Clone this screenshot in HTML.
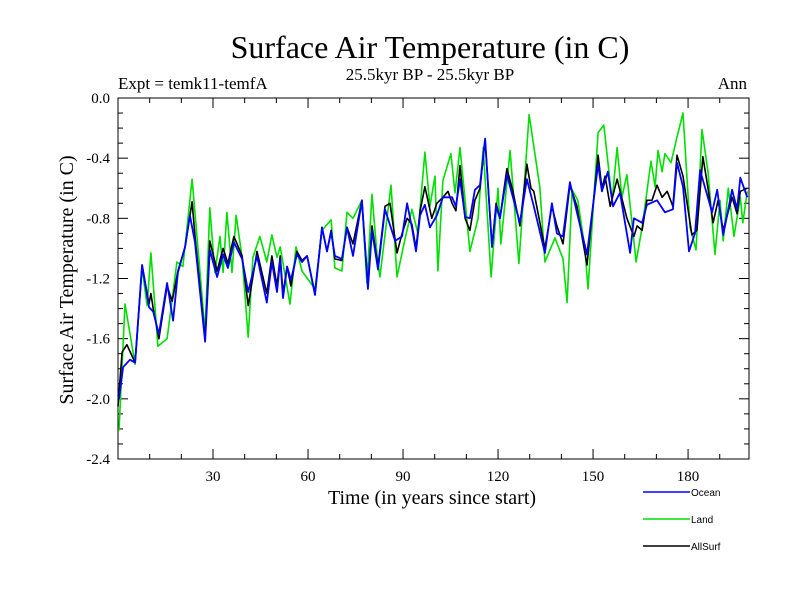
<!DOCTYPE html>
<html><head><meta charset="utf-8"><style>
body{margin:0;background:#fff;}
svg{display:block;}
</style></head><body>
<svg id="chart" width="800" height="600" viewBox="0 0 800 600" xmlns="http://www.w3.org/2000/svg">
<rect x="0" y="0" width="800" height="600" fill="#fff"/>
<text x="430" y="58" text-anchor="middle" font-family="Liberation Serif, serif" font-size="32">Surface Air Temperature (in C)</text>
<text x="430" y="80" text-anchor="middle" font-family="Liberation Serif, serif" font-size="17">25.5kyr BP - 25.5kyr BP</text>
<text x="118" y="89" font-family="Liberation Serif, serif" font-size="17">Expt = temk11-temfA</text>
<text x="747" y="89" text-anchor="end" font-family="Liberation Serif, serif" font-size="17">Ann</text>
<text transform="translate(73,280) rotate(-90)" text-anchor="middle" font-family="Liberation Serif, serif" font-size="20">Surface Air Temperature (in C)</text>
<text x="432" y="504" text-anchor="middle" font-family="Liberation Serif, serif" font-size="20">Time (in years since start)</text>
<g id="axes"></g>
<g id="series"></g>
<g id="legend"></g>
</svg>
<script>
const xTicks=[30,60,90,120,150,180];
const yTicks=[0,-0.4,-0.8,-1.2,-1.6,-2.0,-2.4];
const yTickLabels=["0.0","-0.4","-0.8","-1.2","-1.6","-2.0","-2.4"];
const seriesNames=["Ocean","Land","AllSurf"];

const oceanYears=[0.3,1.6,3.8,5.4,7.6,9.8,11.1,12.9,15.5,17.4,18.9,21.2,22.7,24.3,27.5,29.0,31.3,33.2,34.7,36.6,39.2,41.1,43.9,47.0,48.6,50.2,51.2,52.1,53.4,54.6,56.5,58.1,59.7,62.2,64.4,66.0,67.3,68.5,70.7,72.3,74.2,77.0,78.9,80.2,82.1,84.3,87.5,89.7,91.3,92.8,94.1,95.4,96.9,98.5,100.7,102.6,105.5,106.7,108.0,109.6,111.1,112.7,114.3,115.9,118.1,119.4,120.6,122.8,124.7,126.9,129.1,131.3,134.8,137.0,138.6,140.5,142.7,144.9,146.5,148.1,151.6,152.8,154.7,156.3,158.5,161.7,162.9,165.5,167.0,170.2,172.7,175.2,176.5,178.4,180.3,182.2,183.8,185.7,187.6,189.2,191.1,193.9,195.5,196.5,198.7];
const oceanVals=[-2.0,-1.79,-1.74,-1.76,-1.11,-1.39,-1.42,-1.57,-1.23,-1.48,-1.16,-0.99,-0.78,-0.96,-1.62,-1.01,-1.19,-1.04,-1.13,-0.96,-1.07,-1.29,-1.05,-1.36,-1.09,-1.29,-1.07,-1.33,-1.12,-1.21,-1.04,-1.09,-1.05,-1.31,-0.86,-1.02,-0.89,-1.05,-1.07,-0.86,-1.05,-0.68,-1.27,-0.88,-1.14,-0.74,-0.95,-0.92,-0.70,-0.86,-1.02,-0.78,-0.71,-0.86,-0.78,-0.66,-0.66,-0.72,-0.54,-0.79,-0.80,-0.61,-0.58,-0.27,-0.99,-0.72,-0.80,-0.51,-0.66,-0.83,-0.54,-0.72,-1.03,-0.70,-0.90,-0.92,-0.56,-0.76,-0.90,-1.04,-0.44,-0.62,-0.49,-0.72,-0.63,-1.03,-0.80,-0.83,-0.71,-0.68,-0.76,-0.74,-0.43,-0.59,-1.02,-0.90,-0.48,-0.62,-0.76,-0.61,-0.91,-0.61,-0.74,-0.53,-0.66];

const landYears=[0.3,2.2,5.4,7.6,9.2,10.4,12.6,15.5,18.6,20.5,23.4,25.3,27.5,29.0,30.6,32.2,33.2,34.4,36.0,37.3,39.2,41.1,42.6,44.8,47.0,48.6,50.2,51.2,54.3,56.2,58.1,62.2,64.4,67.3,68.5,70.7,72.3,74.2,77.0,78.6,80.2,81.8,82.7,86.2,88.1,90.6,92.8,94.7,96.9,98.5,100.1,101.0,102.6,105.1,106.4,108.0,109.6,111.1,113.7,115.3,117.8,120.0,120.9,123.8,126.6,129.8,131.7,133.2,134.8,138.0,140.5,141.8,143.4,145.2,147.5,148.4,151.6,153.4,156.0,157.6,159.1,160.7,163.6,165.5,168.3,169.6,170.5,171.8,172.7,174.6,176.5,178.4,180.6,182.5,184.4,186.3,188.5,190.1,191.1,192.7,194.5,196.5,197.3,198.7];
const landVals=[-2.21,-1.37,-1.77,-1.13,-1.38,-1.03,-1.65,-1.60,-1.09,-1.12,-0.54,-1.01,-1.56,-0.73,-1.16,-0.92,-1.16,-0.76,-1.16,-0.78,-1.06,-1.59,-1.06,-0.92,-1.09,-0.91,-1.06,-0.99,-1.37,-0.99,-1.15,-1.27,-0.88,-0.81,-1.13,-1.15,-0.76,-0.80,-0.68,-1.23,-0.64,-1.05,-1.19,-0.58,-1.19,-0.94,-0.74,-0.90,-0.36,-0.72,-0.52,-1.15,-0.55,-0.37,-0.63,-0.33,-0.68,-1.02,-0.80,-0.33,-1.19,-0.60,-0.97,-0.35,-1.10,-0.11,-0.38,-0.59,-1.09,-0.93,-1.07,-1.36,-0.61,-0.68,-1.01,-1.27,-0.23,-0.18,-0.68,-0.33,-0.66,-0.51,-1.09,-0.86,-0.42,-0.59,-0.35,-0.49,-0.37,-0.43,-0.26,-0.10,-0.86,-1.01,-0.21,-0.49,-1.04,-0.68,-0.95,-0.60,-0.92,-0.66,-0.83,-0.62];

const allYears=[0,1.3,2.8,5.4,7.6,9.8,10.4,11.1,12.9,15.5,17.1,18.9,21.2,23.4,24.3,27.5,29.0,31.3,33.2,34.7,36.6,39.2,41.1,43.9,47.0,48.6,50.2,51.2,52.1,53.4,54.6,56.5,58.1,59.7,62.2,64.4,66.0,67.3,68.5,70.7,72.3,74.2,77.0,78.9,80.2,82.1,84.3,85.9,88.1,89.7,91.3,92.8,94.1,95.4,96.9,99.1,100.7,102.6,104.2,105.5,106.7,108.0,109.6,111.1,112.7,114.3,115.9,118.1,119.4,120.6,122.8,124.7,126.9,129.1,130.4,131.3,134.8,137.0,138.6,140.5,142.7,144.9,146.5,148.1,151.6,152.8,153.8,155.4,156.6,157.6,160.7,162.9,163.9,165.5,167.0,168.6,170.2,171.8,173.4,175.2,176.5,178.4,181.2,182.8,184.7,186.3,187.9,189.5,191.1,193.9,195.5,196.5,198.7];
const allVals=[-2.05,-1.69,-1.64,-1.76,-1.11,-1.37,-1.30,-1.40,-1.60,-1.25,-1.35,-1.15,-0.99,-0.69,-0.92,-1.60,-0.95,-1.15,-1.00,-1.10,-0.92,-1.05,-1.38,-1.02,-1.30,-1.05,-1.25,-1.05,-1.30,-1.12,-1.25,-1.02,-1.08,-1.05,-1.30,-0.86,-1.02,-0.88,-1.07,-1.08,-0.86,-0.97,-0.68,-1.25,-0.85,-1.12,-0.72,-0.70,-1.03,-0.90,-0.80,-0.84,-1.00,-0.75,-0.59,-0.80,-0.70,-0.66,-0.62,-0.70,-0.75,-0.45,-0.80,-0.88,-0.68,-0.60,-0.28,-0.99,-0.70,-0.80,-0.47,-0.62,-0.85,-0.44,-0.60,-0.62,-1.00,-0.72,-0.85,-0.97,-0.58,-0.72,-0.92,-1.11,-0.38,-0.60,-0.52,-0.72,-0.62,-0.54,-0.80,-0.92,-0.85,-0.88,-0.68,-0.68,-0.58,-0.66,-0.62,-0.72,-0.38,-0.52,-0.91,-0.88,-0.39,-0.60,-0.83,-0.68,-0.88,-0.66,-0.77,-0.62,-0.60];

const NS='http://www.w3.org/2000/svg';
const X0=118, XS=3.167, L=118, R=749, T=98, B=459;
const YMIN=-2.4, YMAX=0;
function xScale(v){return X0+XS*v;}
function yScale(v){return T+(YMAX-v)/(YMAX-YMIN)*(B-T);}
function mk(tag,attrs,parent){const e=document.createElementNS(NS,tag);for(const k in attrs)e.setAttribute(k,attrs[k]);parent.appendChild(e);return e;}

const axes=document.getElementById('axes');
const frame=mk('rect',{x:L,y:T,width:R-L,height:B-T,fill:'none',stroke:'#000','stroke-width':1},axes);


for(let v=0;v>=-2.4001;v-=0.1){
  const y=yScale(v);const major=Math.abs(Math.round(v*10)%4)===0;const len=major?10:5;
  const t1=mk('line',{x1:L,x2:L+len,y1:y,y2:y,stroke:'#000'},axes);
  
  
  const t2=mk('line',{x1:R,x2:R-len,y1:y,y2:y,stroke:'#000'},axes);
  
  
}
yTicks.forEach((v,i)=>{
  const t=mk('text',{x:L-8,y:yScale(v)+5,'text-anchor':'end','font-family':'Liberation Serif, serif','font-size':15},axes);
  t.textContent=yTickLabels[i];
  
  
});
for(let v=10;v<200;v+=10){
  const x=xScale(v);const major=v%30===0;const len=major?10:5;
  const t1=mk('line',{x1:x,x2:x,y1:B,y2:B-len,stroke:'#000'},axes);
  
  
  const t2=mk('line',{x1:x,x2:x,y1:T,y2:T+len,stroke:'#000'},axes);
  
  
}
xTicks.forEach(v=>{
  const t=mk('text',{x:xScale(v),y:B+22,'text-anchor':'middle','font-family':'Liberation Serif, serif','font-size':15},axes);
  t.textContent=String(v);
  
  
});

const series=document.getElementById('series');
function drawLine(xs,vs,color,name,w){
  const d=xs.map((x,i)=>(i?'L':'M')+xScale(x).toFixed(1)+','+yScale(vs[i]).toFixed(1)).join('');
  const p=mk('path',{d:d,fill:'none',stroke:color,'stroke-width':w,'stroke-linejoin':'round'},series);
  
  
}
drawLine(landYears,landVals,'#00e000','land-line',1.6);
drawLine(allYears,allVals,'#000000','allsurf-line',1.6);
drawLine(oceanYears,oceanVals,'#0000ff','ocean-line',1.8);

const legend=document.getElementById('legend');
const colors=['#0000ff','#00e000','#000000'];
seriesNames.forEach((n,i)=>{
  const y=492+i*27;
  const g=mk('g',{},legend);
  
  
  mk('line',{x1:643,x2:690,y1:y,y2:y,stroke:colors[i],'stroke-width':1.5},g);
  const t=mk('text',{x:691,y:y+4,'font-family':'Liberation Sans, sans-serif','font-size':10},g);
  t.textContent=n;
});
</script>
</body></html>
